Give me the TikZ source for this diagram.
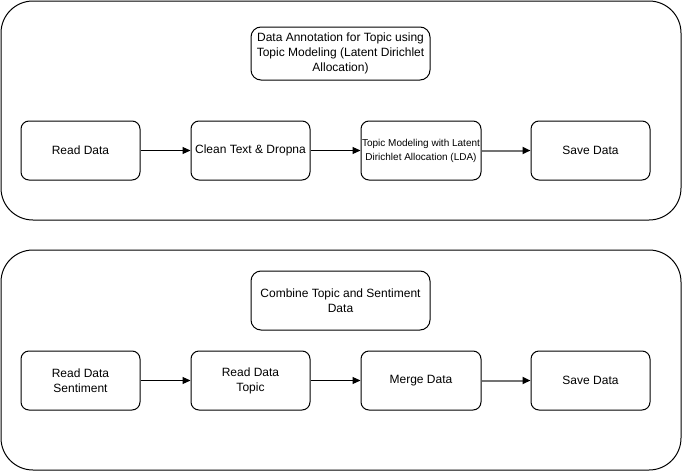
\documentclass[tikz,border=0pt]{standalone}
\usepackage{fontspec}
\setmainfont{Liberation Sans}
\usetikzlibrary{arrows.meta}
\begin{document}
\begin{tikzpicture}[x=1pt,y=-1pt,
  outerbox/.style={draw,line width=1pt,rounded corners=32pt},
  titlebox/.style={draw,line width=1pt,rounded corners=10pt,minimum width=179pt,minimum height=53pt,inner sep=0pt,align=center,font=\fontsize{12}{15}\selectfont},
  stepbox/.style={draw,line width=1pt,rounded corners=8pt,minimum width=119pt,minimum height=59pt,inner sep=0pt,align=center,font=\fontsize{12}{15}\selectfont},
  conn/.style={-{Triangle[length=8pt,width=7pt]},line width=1pt},
  gconn/.style={-{Triangle[length=8pt,width=7pt,color=black]},line width=2pt,draw=black!55}
]
\useasboundingbox (0,0) rectangle (682,471);
\fill[white] (0,0) rectangle (682,471);
% frames
\node[outerbox,minimum width=680pt,minimum height=219pt,inner sep=0pt] (frameA) at (341,110.5) {};
\node[outerbox,minimum width=680pt,minimum height=220pt,inner sep=0pt] (frameB) at (341,360) {};
% top group
\node[titlebox] (titleA) at (340.5,53.5) {Data Annotation for Topic using\\Topic Modeling (Latent Dirichlet\\Allocation)};
\node[stepbox] (a1) at (80.5,150.5) {Read Data};
\node[stepbox] (a2) at (250.5,150.5) {Clean Text \& Dropna};
\node[stepbox,minimum width=120pt,font=\fontsize{10}{14}\selectfont] (a3) at (421,150.5) {Topic Modeling with Latent\\Dirichlet Allocation (LDA)};
\node[stepbox] (a4) at (590.5,150.5) {Save Data};
\draw[conn] (a1) -- (a2);
\draw[conn] (a2) -- (a3);
\draw[gconn] (a3) -- (a4);
% bottom group
\node[titlebox,minimum height=59pt] (titleB) at (340.5,300.5) {Combine Topic and Sentiment\\Data};
\node[stepbox] (b1) at (80.5,380.5) {Read Data\\Sentiment};
\node[stepbox] (b2) at (250.5,380.5) {Read Data\\Topic};
\node[stepbox,minimum width=120pt] (b3) at (421,380.5) {Merge Data};
\node[stepbox] (b4) at (590.5,380.5) {Save Data};
\draw[conn] (b1) -- (b2);
\draw[conn] (b2) -- (b3);
\draw[gconn] (b3) -- (b4);
\end{tikzpicture}
\end{document}
